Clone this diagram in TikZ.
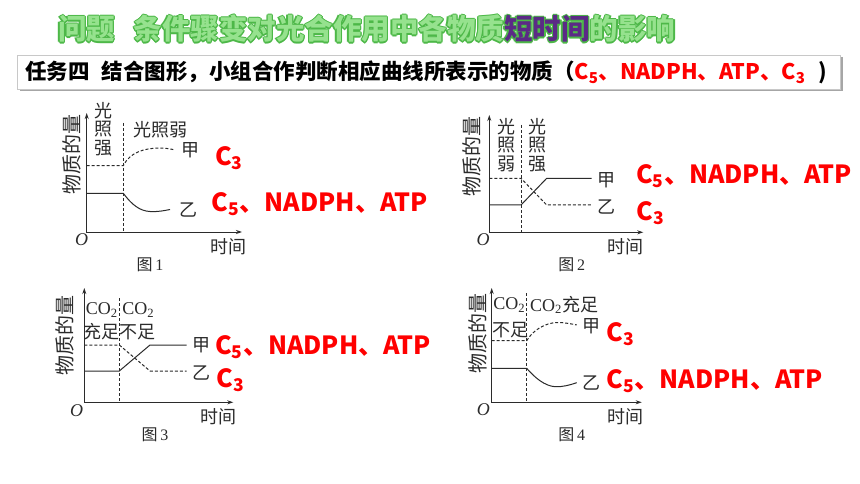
\documentclass[tikz,border=0pt]{standalone}
\usepackage{fontspec}
\setmainfont{Liberation Serif}
\newfontfamily\cjk{Noto Sans CJK SC}
\usetikzlibrary{arrows.meta}

\definecolor{titleedge}{HTML}{4DB848}
\definecolor{titlefill}{HTML}{96E28E}
\definecolor{titlepurple}{HTML}{5B2A86}
\definecolor{ink}{HTML}{2B2B2B}
\definecolor{boxedge}{HTML}{C8C8C8}

\newcommand{\titlestr}[2]{\textcolor{#1}{问题\hspace{0.65em}条件骤变对光合作用中各物质}\textcolor{#2}{短时间}\textcolor{#1}{的影响}}

\tikzset{
  titletext/.style={anchor=base west, inner sep=0, font=\cjk\bfseries\fontsize{28.5}{28.5}\selectfont},
  tasktext/.style={anchor=base west, inner sep=0, font=\cjk\bfseries\fontsize{21.5}{21.5}\selectfont},
  axis/.style={draw=ink, line width=1pt, {Stealth[length=6pt,width=4pt]}-{Stealth[length=6pt,width=4pt]}},
  curve/.style={draw=ink, line width=1pt},
  dashcurve/.style={curve, dash pattern=on 3pt off 2pt},
  divider/.style={draw=ink, line width=0.9pt, dash pattern=on 3pt off 2pt},
  lbl/.style={text=ink, inner sep=0, align=center, font=\cjk\fontsize{18}{18.5}\selectfont},
  qty/.style={lbl, rotate=90, font=\cjk\fontsize{20}{20}\selectfont},
  latin/.style={text=ink, inner sep=0, font=\fontsize{18}{18}\selectfont},
  caption/.style={text=ink, inner sep=0, font=\fontsize{16}{16}\selectfont},
  answer/.style={text=red, inner sep=0, anchor=base west, font=\cjk\bfseries\fontsize{25}{25}\selectfont},
}

\begin{document}
\begin{tikzpicture}[x=1pt,y=-1pt]
  \fill[white] (0,0) rectangle (860,484);
  \useasboundingbox (0,0) rectangle (860,484);

  % title with outline
  \foreach \dx/\dy in {-1.3/0,1.3/0,0/-1.3,0/1.3,-0.9/-0.9,0.9/-0.9,-0.9/0.9,0.9/0.9}
    \node[titletext] (title-\dx-\dy) at (58+\dx,40+\dy) {\titlestr{titleedge}{titleedge}};
  \node[titletext] (title) at (58,40) {\titlestr{titlefill}{titlepurple}};

  % task box
  \fill[black!35] (19.5,57.5) rectangle (842.5,91.5);
  \fill[white,draw=boxedge,line width=0.8pt] (17,55) rectangle (840,89);
  \node[tasktext] (task) at (25,79.5) {任务四\hspace{0.55em}结合图形，小组合作判断相应曲线所表示的物质（\textcolor{red}{C\textsubscript{5}、NADPH、ATP、C\textsubscript{3}}\hspace{0.6em})};

  % graph 1
  \coordinate (o1) at (86.7,232);
  \draw[axis] (86.7,113) -- (o1) -- (242,232);
  \draw[divider] (123.3,123) -- (123.3,232);
  \draw[dashcurve] (86.7,165.7) -- (123.3,165.7) .. controls (130,152) and (145,148) .. (160,148) .. controls (166,148) and (171,149) .. (175,150);
  \draw[curve] (86.7,193.3) -- (123.3,193.3) .. controls (132,205) and (140,211) .. (150,211.5) .. controls (158,212) and (165,210.5) .. (170,209.5);
  \node[qty] (qty1) at (72,155) {物质的量};
  \node[lbl] (strong1) at (103,129) {光\\照\\强};
  \node[lbl] (weak1) at (160,130) {光照弱};
  \node[lbl] (jia1) at (190,150) {甲};
  \node[lbl] (yi1) at (188,210) {乙};
  \node[latin] (zero1) at (81.7,240) {\textit{O}};
  \node[lbl] (time1) at (228,247) {时间};
  \node[caption] (cap1) at (150,265) {{\cjk 图}\,1};
  \node[answer] (ans1a) at (215,165.5) {C\textsubscript{3}};
  \node[answer] (ans1b) at (211.7,211.5) {C\textsubscript{5}、NADPH、ATP};

  % graph 2
  \coordinate (o2) at (489.3,232.3);
  \draw[axis] (489.3,115) -- (o2) -- (643.3,232.3);
  \draw[divider] (521,125) -- (521,232.3);
  \draw[curve] (489.3,205) -- (521,205) -- (546.7,178.3) -- (591.7,178.3);
  \draw[dashcurve] (489.3,178.3) -- (521,178.3) -- (546.7,205) -- (591.7,205);
  \node[qty] (qty2) at (471.7,156.7) {物质的量};
  \node[lbl] (weak2) at (506,145) {光\\照\\弱};
  \node[lbl] (strong2) at (537.3,145) {光\\照\\强};
  \node[lbl] (jia2) at (606,180) {甲};
  \node[lbl] (yi2) at (606,206.7) {乙};
  \node[latin] (zero2) at (483,240) {\textit{O}};
  \node[lbl] (time2) at (625,246.7) {时间};
  \node[caption] (cap2) at (571.7,265) {{\cjk 图}\,2};
  \node[answer] (ans2a) at (636,183.3) {C\textsubscript{5}、NADPH、ATP};
  \node[answer] (ans2b) at (636.7,220) {C\textsubscript{3}};

  % graph 3
  \coordinate (o3) at (84.3,402.3);
  \draw[axis] (84.3,288) -- (o3) -- (233.3,402.3);
  \draw[divider] (119.3,298) -- (119.3,402.3);
  \draw[curve] (84.3,371) -- (119.3,371) -- (150,345) -- (186.7,345);
  \draw[dashcurve] (84.3,345) -- (119.3,345) -- (150,371) -- (186.7,371);
  \node[qty] (qty3) at (65,335) {物质的量};
  \node[latin] (co3a) at (101.7,310) {CO\textsubscript{2}};
  \node[latin] (co3b) at (138.3,310) {CO\textsubscript{2}};
  \node[lbl] (enough3) at (101.7,331.7) {充足};
  \node[lbl] (short3) at (137.3,331.7) {不足};
  \node[lbl] (jia3) at (201.7,345) {甲};
  \node[lbl] (yi3) at (201.7,373.3) {乙};
  \node[latin] (zero3) at (76.7,410.7) {\textit{O}};
  \node[lbl] (time3) at (218.3,416.7) {时间};
  \node[caption] (cap3) at (155,435) {{\cjk 图}\,3};
  \node[answer] (ans3a) at (215,354) {C\textsubscript{5}、NADPH、ATP};
  \node[answer] (ans3b) at (216.7,387.3) {C\textsubscript{3}};

  % graph 4
  \coordinate (o4) at (491.7,402.3);
  \draw[axis] (491.7,288) -- (o4) -- (641.7,402.3);
  \draw[divider] (526.7,293) -- (526.7,402.3);
  \draw[dashcurve] (491.7,340.7) -- (526.7,340.7) .. controls (533,330) and (545,323) .. (557,322.5) .. controls (565,322.5) and (572,324) .. (576.7,325);
  \draw[curve] (491.7,368.3) -- (526.7,368.3) .. controls (535,378) and (545,386) .. (555,386.7) .. controls (563,387) and (570,385) .. (576.7,382.7);
  \node[qty] (qty4) at (478.3,333.3) {物质的量};
  \node[latin] (co4a) at (509.3,305) {CO\textsubscript{2}};
  \node[latin, anchor=west] (co4b) at (530,305) {CO\textsubscript{2}{\cjk 充足}};
  \node[lbl] (short4) at (510,330) {不足};
  \node[lbl] (jia4) at (591.7,326.7) {甲};
  \node[lbl] (yi4) at (591.7,383.3) {乙};
  \node[latin] (zero4) at (483.3,410) {\textit{O}};
  \node[lbl] (time4) at (625,416.7) {时间};
  \node[caption] (cap4) at (571.7,435) {{\cjk 图}\,4};
  \node[answer] (ans4a) at (606.7,341) {C\textsubscript{3}};
  \node[answer] (ans4b) at (606.7,388.3) {C\textsubscript{5}、NADPH、ATP};
\end{tikzpicture}
\end{document}
